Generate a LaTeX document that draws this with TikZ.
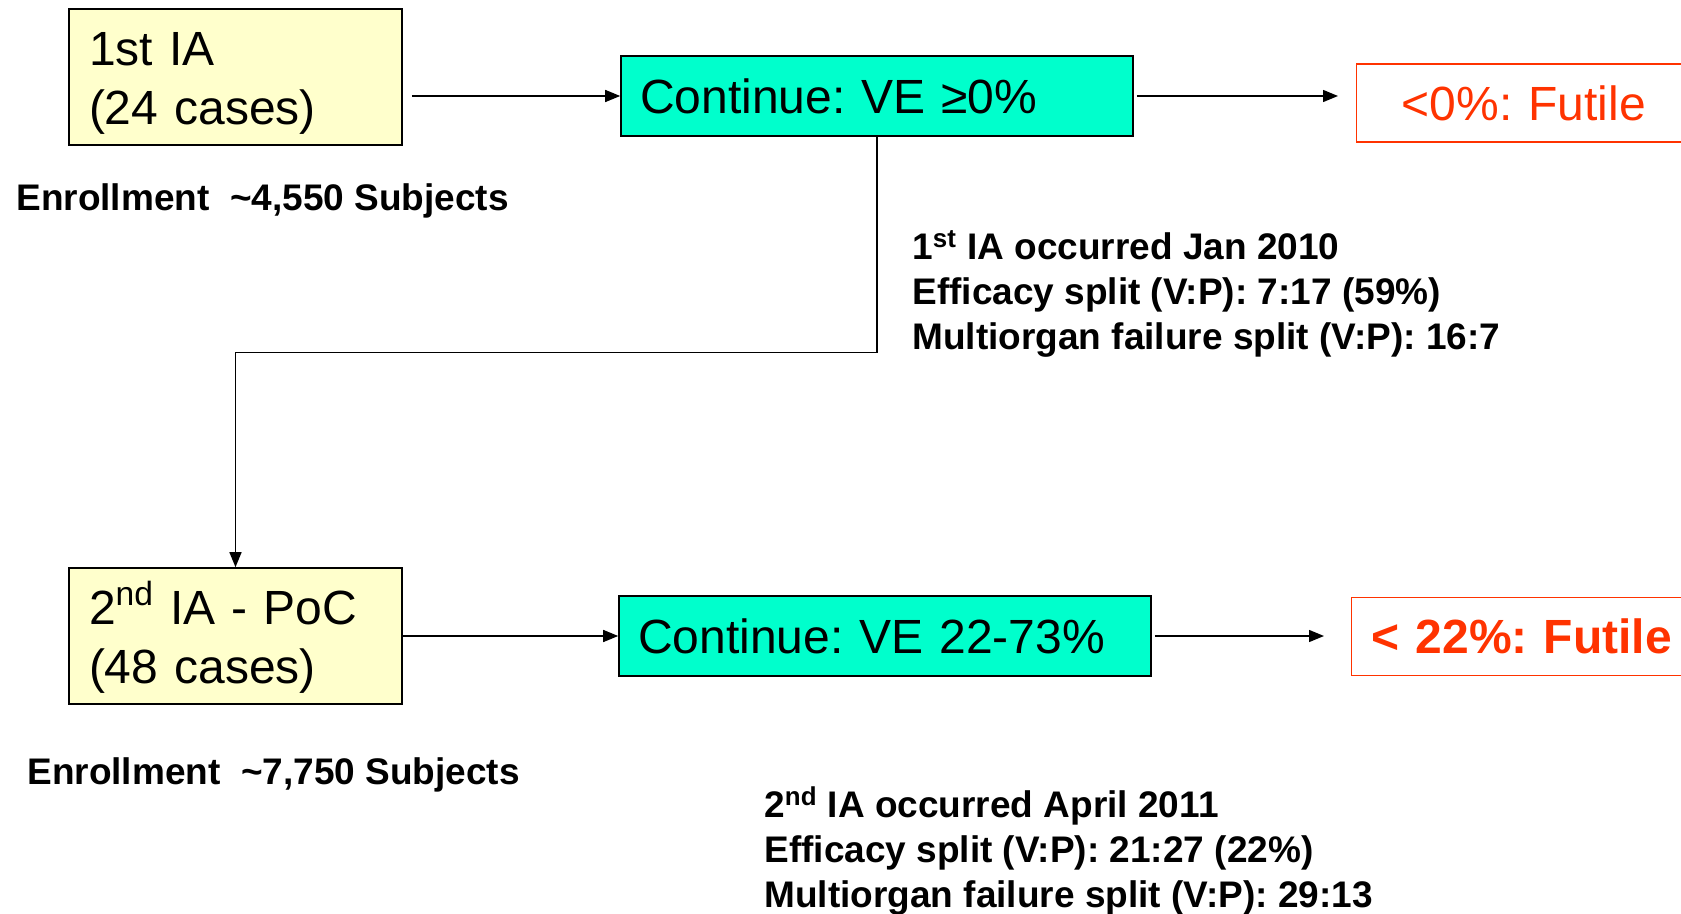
\documentclass[tikz,border=0pt]{standalone}
\usepackage{fontspec}
\setmainfont{Liberation Sans}
\usetikzlibrary{arrows.meta,positioning}
\definecolor{iayellow}{HTML}{FFFFCC}
\definecolor{goaqua}{HTML}{00FFCC}
\definecolor{futred}{HTML}{FF3300}
\frenchspacing
\newcommand{\topstrut}{\rule{0pt}{22.5pt}}

\begin{document}
\begin{tikzpicture}[
  x=0.5pt, y=-0.5pt,
  big/.style={font=\fontsize{24}{29.5}\selectfont},
  iabox/.style={big, draw, line width=0.8pt, fill=iayellow, minimum height=68pt,
    text width=146.5pt, inner xsep=10pt, inner ysep=0pt, align=left},
  gobox/.style={big, draw, line width=0.8pt, fill=goaqua, minimum height=40pt,
    inner xsep=9.5pt, align=left},
  futbox/.style={big, draw=futred, line width=0.7pt, text=futred, minimum height=39pt,
    anchor=west, align=left},
  note/.style={anchor=west, align=left, inner sep=0pt,
    font=\fontsize{18.5}{22.5}\bfseries\selectfont},
  arr/.style={-{Triangle[length=7.5pt,width=6pt]}, line width=0.7pt}
]
\useasboundingbox (0,0) rectangle (1681,914);
\clip (0,0) rectangle (1681,914);

% first interim analysis
\node[iabox] (ia1) at (235.5,77) {\topstrut 1st IA\\(24 cases)};
\node[gobox, text width=237pt] (go1) at (877,96) {Continue: VE ≥0\%};
\node[futbox, text width=155pt, inner xsep=22.5pt] (fut1) at (1356,103) {<0\%: Futile};
\node[note] (enr1) at (16,201) {Enrollment\ \ \textasciitilde4,550 Subjects};
\node[note] (split1) at (912,294)
  {1\textsuperscript{st} IA occurred Jan 2010\\
   Efficacy split (V:P): 7:17 (59\%)\\
   Multiorgan failure split (V:P): 16:7};

% second interim analysis
\node[iabox] (ia2) at (235.5,636) {\topstrut 2\textsuperscript{nd} IA - PoC\\(48 cases)};
\node[gobox, text width=247pt] (go2) at (885,636) {Continue: VE 22-73\%};
\node[futbox, text width=180pt, inner xsep=10pt,
  font=\fontsize{24}{29.5}\bfseries\selectfont] (fut2) at (1351,636.5) {< 22\%: Futile};
\node[note] (enr2) at (27,775) {Enrollment\ \ \textasciitilde7,750 Subjects};
\node[note] (split2) at (764,851)
  {2\textsuperscript{nd} IA occurred April 2011\\
   Efficacy split (V:P): 21:27 (22\%)\\
   Multiorgan failure split (V:P): 29:13};

% connectors
\draw[arr, shorten <=4.5pt] (ia1.east |- go1.west) -- (go1.west);
\draw[arr, shorten <=1.5pt, shorten >=9pt] (go1.east) -- (fut1.west |- go1.east);
\draw[arr] (go1.south) -- ++(0,216) -| (ia2.north);
\draw[arr] (ia2.east) -- (go2.west);
\draw[arr, shorten <=1.5pt, shorten >=13.5pt] (go2.east) -- (fut2.west |- go2.east);
\end{tikzpicture}
\end{document}
